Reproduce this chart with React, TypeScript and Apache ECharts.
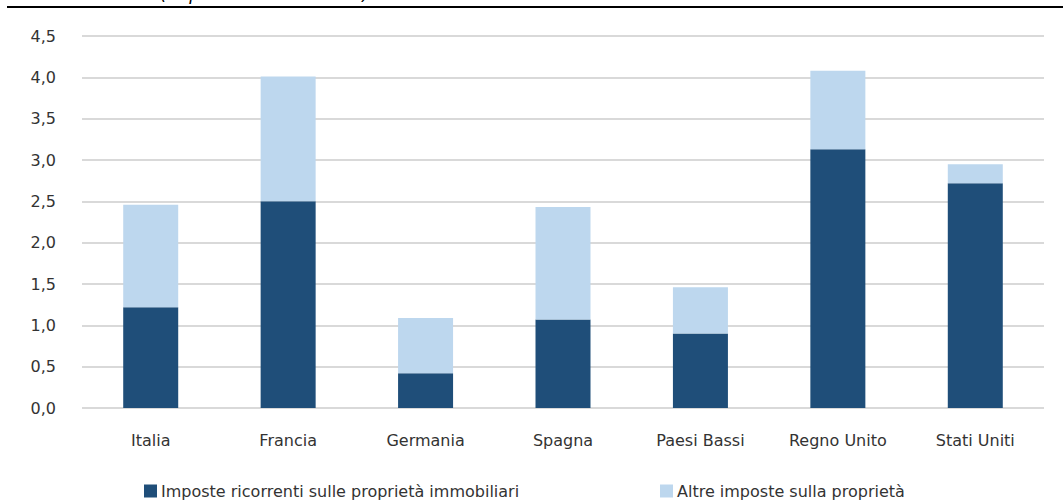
import React, { useEffect, useRef } from "react";
import * as echarts from "echarts";

const categories = ["Italia", "Francia", "Germania", "Spagna", "Paesi Bassi", "Regno Unito", "Stati Uniti"];
const ricorrenti = [1.22, 2.5, 0.42, 1.07, 0.9, 3.13, 2.72];
const altre = [1.24, 1.51, 0.67, 1.36, 0.56, 0.95, 0.23];
const seriesNames = ["Imposte ricorrenti sulle proprietà immobiliari", "Altre imposte sulla proprietà"];
const subtitle = "(in percentuale del PIL)";

const FONT = "DejaVu Sans";
const TEXT = "#333333";

export default function App() {
  const ref = useRef<HTMLDivElement>(null);
  useEffect(() => {
    if (!ref.current) return;
    const chart = echarts.init(ref.current, null, { renderer: "svg" });
    chart.setOption({
      animation: false,
      backgroundColor: "#ffffff",
      textStyle: { fontFamily: FONT },
      grid: { left: 82, right: 19, top: 36, bottom: 94, containLabel: false },
      legend: [
        {
          data: [seriesNames[0]],
          left: 139,
          top: 478,
          itemWidth: 13,
          itemHeight: 13,
          icon: "rect",
          textStyle: { fontFamily: FONT, fontSize: 16, color: TEXT, padding: [0, 0, 0, -1] },
        },
        {
          data: [seriesNames[1]],
          left: 655,
          top: 478,
          itemWidth: 13,
          itemHeight: 13,
          icon: "rect",
          textStyle: { fontFamily: FONT, fontSize: 16, color: TEXT, padding: [0, 0, 0, -1] },
        },
      ],
      xAxis: {
        type: "category",
        data: categories,
        axisLine: { show: false },
        axisTick: { show: false },
        axisLabel: { fontFamily: FONT, fontSize: 16, color: TEXT, margin: 24, interval: 0 },
      },
      yAxis: {
        type: "value",
        min: 0,
        max: 4.5,
        interval: 0.5,
        axisLine: { show: false },
        axisTick: { show: false },
        splitLine: { lineStyle: { color: "#d9d9d9", width: 2 } },
        axisLabel: {
          fontFamily: FONT,
          fontSize: 16,
          color: TEXT,
          margin: 26,
          formatter: (v: number) => v.toFixed(1).replace(".", ","),
        },
      },
      series: [
        {
          name: seriesNames[0],
          type: "bar",
          stack: "tot",
          data: ricorrenti,
          barWidth: 55,
          itemStyle: { color: "#1F4E79" },
        },
        {
          name: seriesNames[1],
          type: "bar",
          stack: "tot",
          data: altre,
          barWidth: 55,
          itemStyle: { color: "#BDD7EE" },
        },
      ],
      graphic: [
        {
          type: "line",
          shape: { x1: 7, y1: 7, x2: 1063, y2: 7 },
          style: { stroke: "#000000", lineWidth: 2 },
        },
        {
          type: "text",
          x: 160,
          y: 2,
          style: {
            text: subtitle,
            font: `italic 18px "${FONT}"`,
            fill: "#000000",
            textVerticalAlign: "bottom",
          },
        },
      ],
    });
    return () => chart.dispose();
  }, []);
  return <div ref={ref} style={{ position: "fixed", left: 0, top: 0, width: 1063, height: 502 }} />;
}
